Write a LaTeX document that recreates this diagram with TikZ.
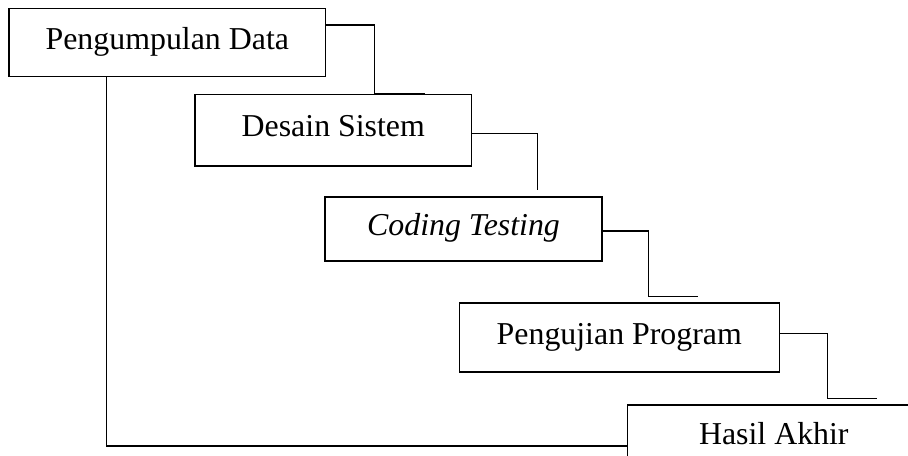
\documentclass[tikz,border=0pt]{standalone}
\usepackage{fontspec}
\setmainfont{Liberation Serif}
\usetikzlibrary{calc}

\begin{document}
\begin{tikzpicture}[x=0.75pt, y=-0.75pt, line width=0.9pt,
   tahap/.style={draw, inner sep=0pt, text height=16.5pt, text depth=6.7pt,
      font=\fontsize{23.9}{28}\selectfont}]
   \clip (0,0) rectangle (908,456);
   % Boxes
   \node [tahap, minimum width=316.7*0.75pt, minimum height=68.4*0.75pt] (pd) at (167.3,42.5) {Pengumpulan Data};
   \node [tahap, minimum width=276.7*0.75pt, minimum height=71.7*0.75pt] (ds) at (333.3,130.2) {Desain Sistem};
   \node [tahap, minimum width=277*0.75pt, minimum height=64*0.75pt] (ct) at (463.5,229) {\textit{Coding Testing}};
   \node [tahap, minimum width=320*0.75pt, minimum height=69*0.75pt] (pp) at (619.3,337.6) {Pengujian Program};
   \node [tahap, minimum width=293*0.75pt, minimum height=66*0.75pt] (ha) at (773.8,438) {Hasil Akhir};
   % Steps
   \draw ($(pd.east)+(0,-17.5)$) -| ($(ds.north west)+(180.3,0)$) -- ($(ds.north west)+(231,0)$);
   \draw ($(ds.east)+(0,3.2)$) -| ($(ct.north west)+(212.7,-6.3)$);
   \draw ($(ct.east)+(0,2)$) -| ($(pp.north west)+(190,-6.3)$) -- ($(pp.north west)+(239,-6.3)$);
   \draw ($(pp.east)+(0,-4.3)$) -| ($(ha.north west)+(201,-6)$) -- ($(ha.north west)+(250.4,-6)$);
   % Back to the end
   \draw ($(pd.south west)+(98.3,0)$) |- ($(ha.west)+(0,8)$);
\end{tikzpicture}
\end{document}
